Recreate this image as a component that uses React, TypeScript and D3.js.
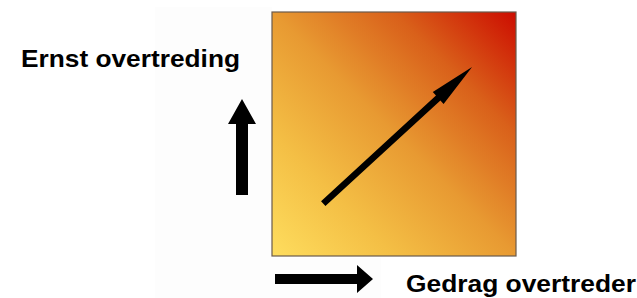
import React from "react";
import * as d3 from "d3";

const W = 637;
const H = 298;

// Axis labels
const yLabel = "Ernst overtreding";
const xLabel = "Gedrag overtreder";

// Gradient stops (offset, colour) from low-low (bottom-left) to high-high (top-right)
const gradOffsets = [0, 0.25, 0.5, 0.75, 1];
const gradColors = ["#fedd5e", "#f4bf45", "#e89a32", "#d9601a", "#cc0c00"];

// Diagonal trend arrow in unit coordinates (x: gedrag, y: ernst)
const trendFrom = [0.21, 0.215];
const trendTo = [0.82, 0.775];

function arrowPolygon(
  x1: number, y1: number, x2: number, y2: number,
  shaftW: number, headW: number, headL: number
) {
  const dx = x2 - x1, dy = y2 - y1;
  const len = Math.hypot(dx, dy);
  const ux = dx / len, uy = dy / len;
  const px = -uy, py = ux;
  const bx = x2 - ux * headL, by = y2 - uy * headL;
  const pts: [number, number][] = [
    [x1 + px * shaftW / 2, y1 + py * shaftW / 2],
    [bx + px * shaftW / 2, by + py * shaftW / 2],
    [bx + px * headW / 2, by + py * headW / 2],
    [x2, y2],
    [bx - px * headW / 2, by - py * headW / 2],
    [bx - px * shaftW / 2, by - py * shaftW / 2],
    [x1 - px * shaftW / 2, y1 - py * shaftW / 2],
  ];
  return d3.line()(pts.concat([pts[0]])) as string;
}

export default function App() {
  const x = d3.scaleLinear().domain([0, 1]).range([272, 516]);
  const y = d3.scaleLinear().domain([0, 1]).range([256, 12]);

  const diag = arrowPolygon(x(trendFrom[0]), y(trendFrom[1]), x(trendTo[0]), y(trendTo[1]), 6.5, 16, 46);
  const up = arrowPolygon(242, 195, 242, 99, 12, 28, 25);
  const right = arrowPolygon(275, 279, 373, 279, 10, 28, 16);

  return (
    <svg width={W} height={H} style={{ position: "absolute", left: 0, top: 0 }}>
      <defs>
        <linearGradient id="heat" x1="0" y1="1" x2="1" y2="0">
          {gradOffsets.map((o, i) => (
            <stop key={i} offset={o} stopColor={gradColors[i]} />
          ))}
        </linearGradient>
      </defs>
      <rect x={0} y={0} width={W} height={H} fill="#ffffff" />
      <rect x={155} y={7} width={117} height={H - 7} fill="#fdfdfd" />
      <rect x={272} y={258} width={109} height={40} fill="#fdfdfd" />
      <rect
        x={x(0)}
        y={y(1)}
        width={x(1) - x(0)}
        height={y(0) - y(1)}
        fill="url(#heat)"
        stroke="#6a5a4c"
        strokeWidth={1.2}
      />
      <path d={diag} fill="#000" />
      <path d={up} fill="#000" />
      <path d={right} fill="#000" />
      <text x={21} y={67} fontFamily="Liberation Sans, Arial, sans-serif" fontWeight="bold" fontSize={24.5}
        textLength={219} lengthAdjust="spacingAndGlyphs" fill="#000">
        {yLabel}
      </text>
      <text x={406} y={292} fontFamily="Liberation Sans, Arial, sans-serif" fontWeight="bold" fontSize={24.5}
        textLength={230} lengthAdjust="spacingAndGlyphs" fill="#000">
        {xLabel}
      </text>
    </svg>
  );
}
